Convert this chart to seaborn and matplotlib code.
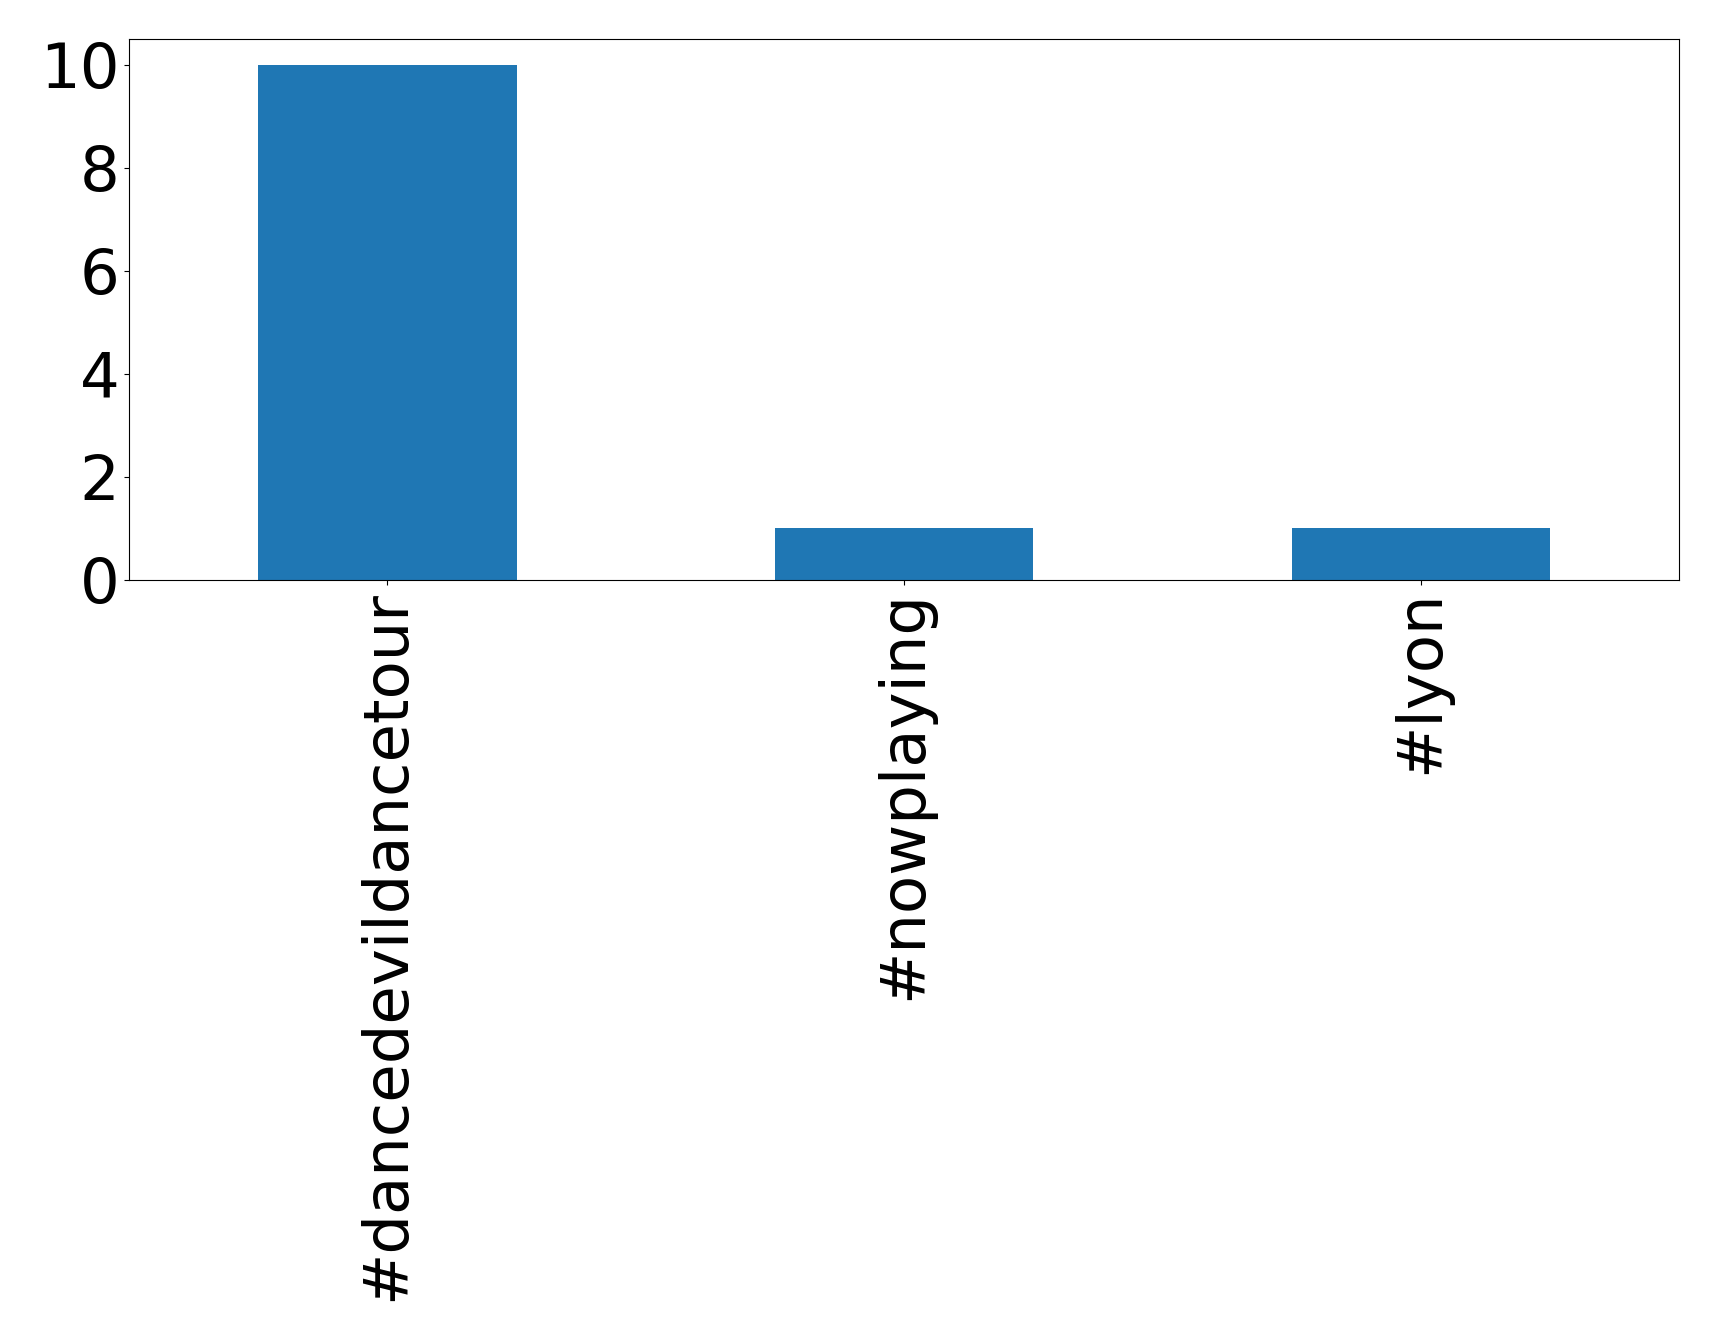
import matplotlib
matplotlib.use("Agg")
import matplotlib.pyplot as plt
import seaborn as sns
import pandas as pd

hashtags = ["#dancedevildancetour", "#nowplaying", "#lyon"]
counts = [10, 1, 1]
y_ticks = [0, 2, 4, 6, 8, 10]

df = pd.DataFrame({"hashtag": hashtags, "count": counts})

fig, ax = plt.subplots(figsize=(17.19, 13.39), dpi=100)
sns.barplot(data=df, x="hashtag", y="count", color="#1f77b4",
            saturation=1, width=0.5, linewidth=0, ax=ax)

ax.set_xlim(-0.5, 2.5)
ax.set_ylim(0, 10.5)
ax.set_yticks(y_ticks)
ax.set_xlabel("")
ax.set_ylabel("")
ax.tick_params(axis="both", labelsize=45)
ax.tick_params(axis="x", labelrotation=90)

fig.subplots_adjust(left=0.075, right=0.977, top=0.971, bottom=0.567)
plt.savefig("out.png", dpi=100)
plt.close()
